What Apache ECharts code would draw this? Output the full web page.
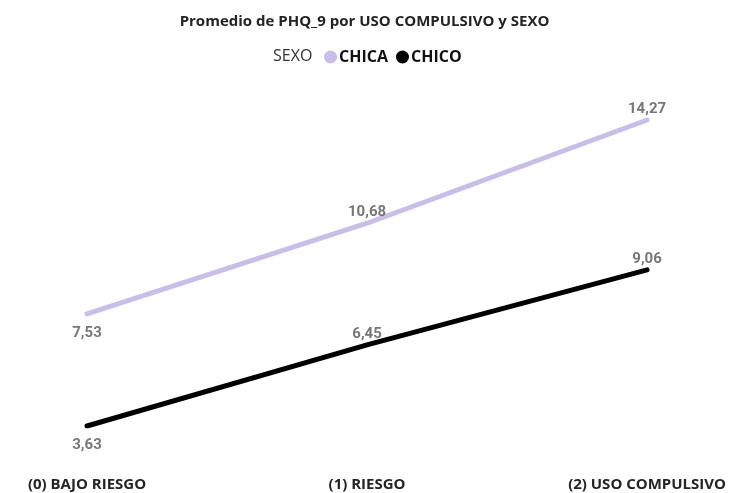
<!DOCTYPE html>
<html><head><meta charset="utf-8">
<script src="https://cdn.jsdelivr.net/npm/echarts@6/dist/echarts.min.js"></script>
<style>html,body{margin:0;padding:0;background:#fff}#c{width:729px;height:493px}</style>
</head><body><div id="c"></div>
<script>
const categories = ['(0) BAJO RIESGO', '(1) RIESGO', '(2) USO COMPULSIVO'];
const chica = [7.53, 10.68, 14.27];
const chico = [3.63, 6.45, 9.06];
const chicaLabelPos = ['bottom', 'top', 'top'];
const chicoLabelPos = ['bottom', 'top', 'top'];

const fmt = v => v.toFixed(2).replace('.', ',');
const lbl = {show: true, color: '#777', fontFamily: 'Roboto', fontWeight: 'bold', fontSize: 15,
  formatter: p => fmt(p.value)};
function pts(vals, pos) {
  return vals.map((v, i) => ({value: v, label: {position: pos[i], distance: pos[i] === 'top' ? 2 : 11}}));
}
const chart = echarts.init(document.getElementById('c'));
chart.setOption({
  animation: false,
  title: [{
    text: 'Promedio de PHQ_9 por USO COMPULSIVO y SEXO', left: 'center', top: 9,
    textStyle: {fontFamily: 'Open Sans', fontWeight: 'bold', fontSize: 15, color: '#252423'}
  }, {
    text: 'SEXO', left: 268, top: 43,
    textStyle: {fontFamily: 'Open Sans', fontWeight: 'normal', fontSize: 16, color: '#333'}
  }],
  legend: {
    left: 319, top: 44, itemGap: 8, itemWidth: 13, itemHeight: 13, icon: 'circle',
    textStyle: {fontFamily: 'Open Sans', fontWeight: 'bold', fontSize: 16, color: '#111', padding: [0, 0, 0, -3]},
    data: ['CHICA', 'CHICO']
  },
  grid: {left: 87, right: 78, top: 120, bottom: 67},
  xAxis: {
    type: 'category', data: categories, boundaryGap: false,
    axisLine: {show: false}, axisTick: {show: false},
    axisLabel: {margin: 51, color: '#252423', fontFamily: 'Open Sans', fontWeight: 'bold', fontSize: 15, interval: 0}
  },
  yAxis: {type: 'value', min: 'dataMin', max: 'dataMax', show: false, splitLine: {show: false}},
  series: [{
    name: 'CHICA', type: 'line', data: pts(chica, chicaLabelPos), color: '#C9BEE8',
    lineStyle: {width: 5, color: '#C9BEE8', cap: 'round'}, symbol: 'circle', symbolSize: 2, showSymbol: true,
    itemStyle: {color: '#C9BEE8'}, label: lbl
  }, {
    name: 'CHICO', type: 'line', data: pts(chico, chicoLabelPos), color: '#000',
    lineStyle: {width: 5, color: '#000', cap: 'round'}, symbol: 'circle', symbolSize: 2, showSymbol: true,
    itemStyle: {color: '#000'}, label: lbl
  }]
});
</script></body></html>
